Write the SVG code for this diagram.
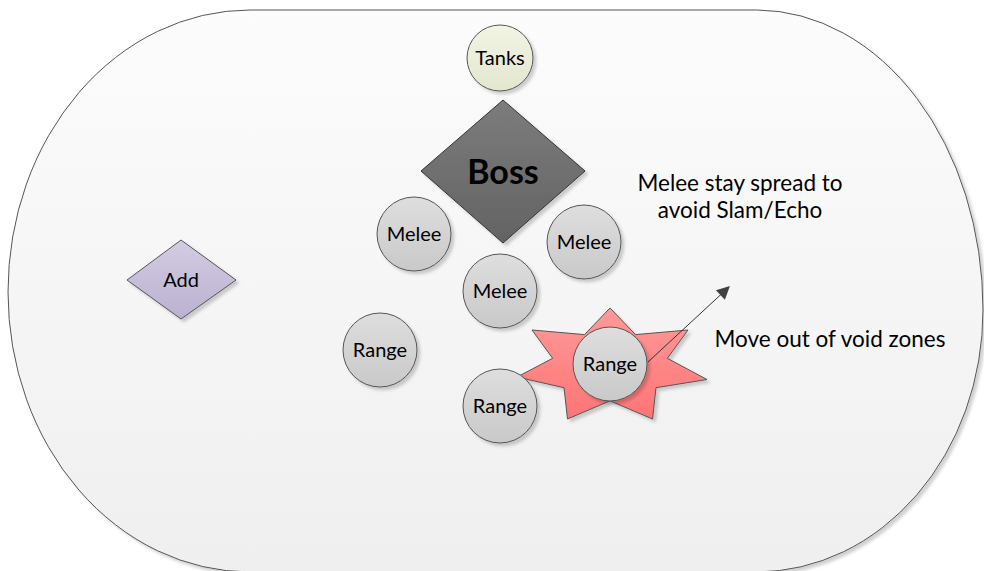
<svg xmlns="http://www.w3.org/2000/svg" width="984" height="571" viewBox="0 0 984 571">
<defs>
<style>
.lbl{font-family:Lato,"Open Sans","Liberation Sans",sans-serif;fill:#000;text-anchor:middle}
.node{font-size:20px}
.note{font-size:22.5px}
.edge{stroke:#555;stroke-width:1}
</style>
<linearGradient id="gArena" x1="0" y1="0" x2="0" y2="1"><stop offset="0" stop-color="#fcfcfc"/><stop offset="1" stop-color="#efefef"/></linearGradient>
<linearGradient id="gGray" x1="0" y1="0" x2="0" y2="1"><stop offset="0" stop-color="#dedede"/><stop offset="1" stop-color="#c9c9c9"/></linearGradient>
<linearGradient id="gTank" x1="0" y1="0" x2="0" y2="1"><stop offset="0" stop-color="#f2f4e4"/><stop offset="1" stop-color="#e3e7cd"/></linearGradient>
<linearGradient id="gBoss" x1="0" y1="0" x2="0" y2="1"><stop offset="0" stop-color="#7c7c7c"/><stop offset="1" stop-color="#636363"/></linearGradient>
<linearGradient id="gAdd" x1="0" y1="0" x2="0" y2="1"><stop offset="0" stop-color="#d3cce2"/><stop offset="1" stop-color="#bbb1d1"/></linearGradient>
<linearGradient id="gStar" x1="0" y1="0" x2="0" y2="1"><stop offset="0" stop-color="#ff9a9a"/><stop offset="1" stop-color="#ff7474"/></linearGradient>
<filter id="sh" x="-10%" y="-10%" width="130%" height="130%"><feDropShadow dx="3" dy="3" stdDeviation="1.5" flood-color="#000" flood-opacity="0.18"/></filter>
<marker id="ah" viewBox="0 0 10 10" refX="9" refY="5" markerWidth="19" markerHeight="13" markerUnits="userSpaceOnUse" orient="auto"><path d="M0,0 L10,5 L0,10 Z" fill="#404040"/></marker>
</defs>
<g id="arena">
<path d="M250,10 H757 A227 300 0 0 1 983 310 A227 262 0 0 1 757 572 H250 A242 280 0 0 1 8 292 A242 282 0 0 1 250 10 Z" fill="url(#gArena)" stroke="#555" stroke-width="1" filter="url(#sh)"/>
</g>
<g id="tanks"><circle cx="500" cy="58" r="33" fill="url(#gTank)" class="edge" filter="url(#sh)"/><text x="500" y="65" class="lbl node">Tanks</text></g>
<g id="boss"><polygon points="503,100 585,171 503,243 421,171" fill="url(#gBoss)" stroke="#333" stroke-width="1" filter="url(#sh)"/><text x="503" y="184" class="lbl" style="font-size:34px;font-weight:bold">Boss</text></g>
<g id="add"><polygon points="181,240 236,280 181,319 127,280" fill="url(#gAdd)" class="edge" filter="url(#sh)"/><text x="181" y="287" class="lbl node">Add</text></g>
<g id="melee1"><circle cx="414" cy="234" r="37" fill="url(#gGray)" class="edge" filter="url(#sh)"/><text x="414" y="241" class="lbl node">Melee</text></g>
<g id="melee2"><circle cx="584" cy="242" r="37" fill="url(#gGray)" class="edge" filter="url(#sh)"/><text x="584" y="249" class="lbl node">Melee</text></g>
<g id="melee3"><circle cx="500" cy="291" r="37" fill="url(#gGray)" class="edge" filter="url(#sh)"/><text x="500" y="298" class="lbl node">Melee</text></g>
<g id="range1"><circle cx="380" cy="350" r="37" fill="url(#gGray)" class="edge" filter="url(#sh)"/><text x="380" y="357" class="lbl node">Range</text></g>
<g id="voidzone"><polygon points="610,308 635.5,334.6 688,330 667.3,358.3 707,379.5 656,387.7 652.5,419 610,400.8 567.5,419 564,387.7 517,377 552.7,358.3 532,330 584.5,334.6" fill="url(#gStar)" class="edge" filter="url(#sh)"/></g>
<g id="range2"><circle cx="500" cy="406" r="37" fill="url(#gGray)" class="edge" filter="url(#sh)"/><text x="500" y="413" class="lbl node">Range</text></g>
<g id="range3"><circle cx="610" cy="364" r="37" fill="url(#gGray)" class="edge" filter="url(#sh)"/><text x="610" y="371" class="lbl node">Range</text></g>
<g id="notes">
<text x="740" y="191" class="lbl note">Melee stay spread to</text>
<text x="740" y="218" class="lbl note">avoid Slam/Echo</text>
<text x="830" y="347" class="lbl note">Move out of void zones</text>
</g>
<g id="connectors">
<line x1="648" y1="362" x2="729" y2="287" stroke="#333" stroke-width="1" marker-end="url(#ah)"/>
</g>
</svg>
